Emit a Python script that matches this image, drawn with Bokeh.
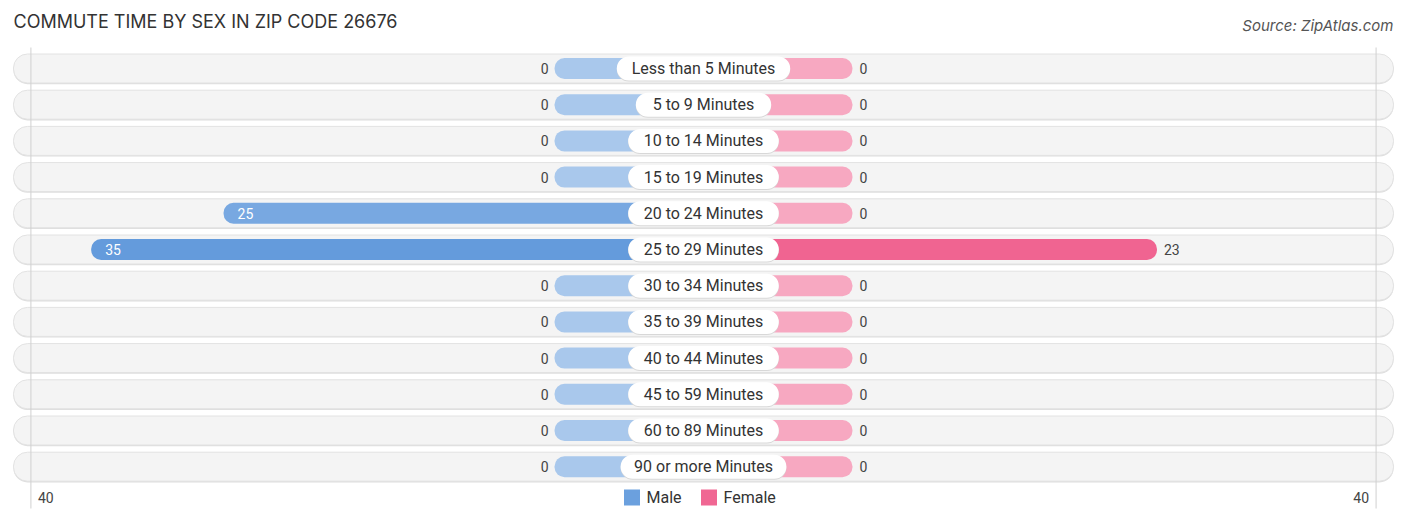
from bokeh.plotting import figure
from bokeh.models import Range1d, ColumnDataSource, Label
from bokeh.core.properties import value
from bokeh.embed import file_html
from bokeh.resources import INLINE

# ---- data ----
categories = ["Less than 5 Minutes", "5 to 9 Minutes", "10 to 14 Minutes",
              "15 to 19 Minutes", "20 to 24 Minutes", "25 to 29 Minutes",
              "30 to 34 Minutes", "35 to 39 Minutes", "40 to 44 Minutes",
              "45 to 59 Minutes", "60 to 89 Minutes", "90 or more Minutes"]
male = [0, 0, 0, 0, 25, 35, 0, 0, 0, 0, 0, 0]
female = [0, 0, 0, 0, 0, 23, 0, 0, 0, 0, 0, 0]
axis_max = 40
tick_labels = ["40", "40"]
title_text = "COMMUTE TIME BY SEX IN ZIP CODE 26676"
source_text = "Source: ZipAtlas.com"
series_names = ["Male", "Female"]

# ---- layout constants ----
W, H = 1406, 522
CX = 703.0        # centre line in figure pixels
S = 13.24         # pixels per unit
OFF = 11.25       # bar stub under the label pill (units)
AXIS_OFF = 10.8
ROW0, DY = 68.0, 36.2
y_end = -ROW0 / DY
y_start = y_end + H / DY

FONT = "Roboto"
MALE_STRONG, MALE_LIGHT = (100, 155, 220), (169, 200, 236)
FEM_STRONG, FEM_LIGHT = (240, 100, 145), (247, 168, 193)


def mix(light, strong, t):
    c = [round(l + (s - l) * t) for l, s in zip(light, strong)]
    return "#%02x%02x%02x" % tuple(c)


def px(d):  # pixels -> x data units
    return d / S


n = len(categories)
rows = list(range(n))
mmax = max(male) or 1
fmax = max(female) or 1

p = figure(width=W, height=H, output_backend="svg", toolbar_location=None,
           x_range=Range1d(-CX / S, (W - CX) / S), y_range=Range1d(y_start, y_end),
           min_border=0, outline_line_color=None)
p.axis.visible = False
p.grid.visible = False
p.background_fill_color = "white"
p.border_fill_color = "white"

# row backgrounds (shadow + pill)
half = px(690)
p.hbar(y=[r + 1.2 / DY for r in rows], left=-half, right=half, height=29 / DY,
       fill_color="#dedede", line_color=None, border_radius=14)
p.hbar(y=rows, left=-half, right=half, height=29 / DY,
       fill_color="#f4f4f4", line_color="#e2e2e2", line_width=1, border_radius=14)

# vertical axis lines
gx = axis_max + AXIS_OFF
for sx in (-gx, gx):
    p.segment(x0=[sx], x1=[sx], y0=[y_end + 47 / DY], y1=[y_start - 14 / DY],
              line_color="#d0d0d0", line_width=1)

# bars
male_src = ColumnDataSource(dict(
    y=rows, left=[-(v + OFF) for v in male], right=[0] * n,
    color=[mix(MALE_LIGHT, MALE_STRONG, v / mmax) for v in male]))
fem_src = ColumnDataSource(dict(
    y=rows, left=[0] * n, right=[v + OFF for v in female],
    color=[mix(FEM_LIGHT, FEM_STRONG, v / fmax) for v in female]))
p.hbar(y="y", left="left", right="right", height=21 / DY, fill_color="color",
       line_color=None, border_radius=10, source=male_src)
p.hbar(y="y", left="left", right="right", height=21 / DY, fill_color="color",
       line_color=None, border_radius=10, source=fem_src)

# label pills
pill_w = [px(7.6 * len(c) + 29) for c in categories]
p.hbar(y=[r + 1 / DY for r in rows], left=[-w / 2 for w in pill_w], right=[w / 2 for w in pill_w],
       height=24 / DY, fill_color="#d8d8d8", line_color=None, border_radius=12)
p.hbar(y=rows, left=[-w / 2 for w in pill_w], right=[w / 2 for w in pill_w],
       height=24 / DY, fill_color="white", line_color=None, border_radius=12)
p.text(x=[0] * n, y=rows, text=categories, text_align="center", text_baseline="middle",
       text_font=value(FONT), text_font_size="16px", text_color="#333333")

# value labels
INSIDE_MIN = 25
m_in = [i for i, v in enumerate(male) if v >= INSIDE_MIN]
m_out = [i for i, v in enumerate(male) if v < INSIDE_MIN]
f_in = [i for i, v in enumerate(female) if v >= INSIDE_MIN]
f_out = [i for i, v in enumerate(female) if v < INSIDE_MIN]
p.text(x=[-(male[i] + OFF) for i in m_out], y=m_out, text=[str(male[i]) for i in m_out],
       x_offset=-6, text_align="right", text_baseline="middle",
       text_font=value(FONT), text_font_size="14px", text_color="#444444")
p.text(x=[-(male[i] + OFF) for i in m_in], y=m_in, text=[str(male[i]) for i in m_in],
       x_offset=14, text_align="left", text_baseline="middle",
       text_font=value(FONT), text_font_size="14px", text_color="white")
p.text(x=[female[i] + OFF for i in f_out], y=f_out, text=[str(female[i]) for i in f_out],
       x_offset=7, text_align="left", text_baseline="middle",
       text_font=value(FONT), text_font_size="14px", text_color="#444444")
p.text(x=[female[i] + OFF for i in f_in], y=f_in, text=[str(female[i]) for i in f_in],
       x_offset=-14, text_align="right", text_baseline="middle",
       text_font=value(FONT), text_font_size="14px", text_color="white")

# axis tick labels
ly = y_end + 497 / DY
p.text(x=[-gx], y=[ly], text=[tick_labels[0]], x_offset=7, text_align="left", text_baseline="middle",
       text_font=value(FONT), text_font_size="14px", text_color="#444444")
p.text(x=[gx], y=[ly], text=[tick_labels[1]], x_offset=-7, text_align="right", text_baseline="middle",
       text_font=value(FONT), text_font_size="14px", text_color="#444444")

# legend
p.scatter(x=[px(631.5 - CX)], y=[ly], marker="square", size=16,
          fill_color=mix(MALE_LIGHT, MALE_STRONG, 0.9), line_color=None)
p.scatter(x=[px(708.5 - CX)], y=[ly], marker="square", size=16,
          fill_color=mix(FEM_LIGHT, FEM_STRONG, 0.95), line_color=None)
p.text(x=[px(646 - CX)], y=[ly], text=[series_names[0]], text_align="left", text_baseline="middle",
       text_font=value(FONT), text_font_size="16px", text_color="#333333")
p.text(x=[px(723 - CX)], y=[ly], text=[series_names[1]], text_align="left", text_baseline="middle",
       text_font=value(FONT), text_font_size="16px", text_color="#333333")

# title and source
p.add_layout(Label(x=13, y=H - 21, x_units="screen", y_units="screen", text=title_text,
                   text_font="Inter", text_font_size="18px", text_color="#333333",
                   text_baseline="middle", text_align="left"))
p.add_layout(Label(x=1393, y=H - 25, x_units="screen", y_units="screen", text=source_text,
                   text_font="Inter", text_font_size="15px", text_font_style="italic",
                   text_color="#555555", text_baseline="middle", text_align="right"))

open("out.html", "w").write(file_html(p, INLINE))
